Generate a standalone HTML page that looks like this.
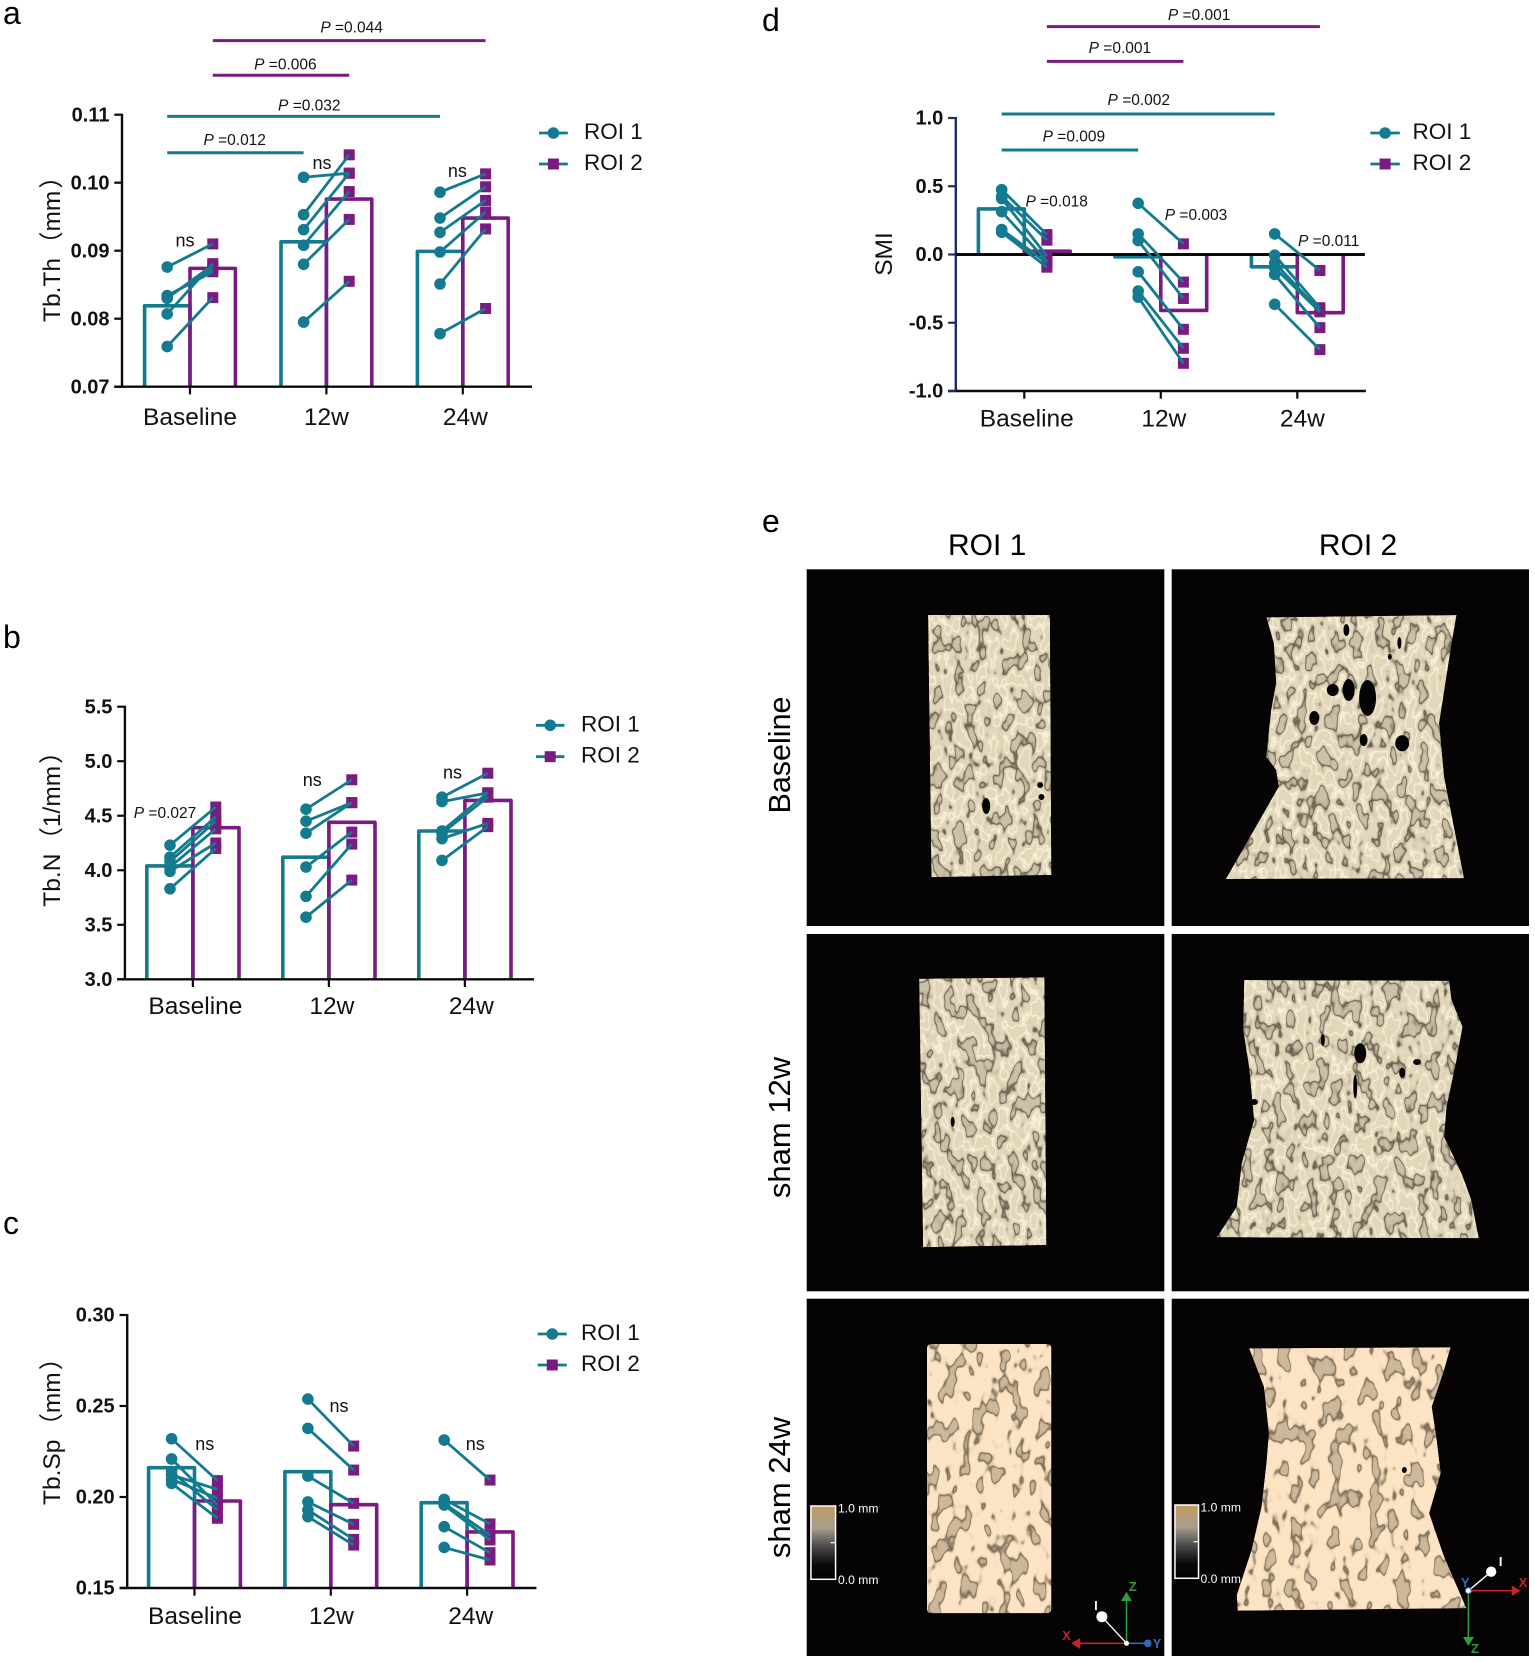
<!DOCTYPE html>
<html lang="en">
<head>
<meta charset="utf-8">
<title>Trabecular bone microstructure by ROI</title>
<style>
html,body{margin:0;padding:0;background:#fff;}
svg{display:block;}
text{font-family:"Liberation Sans","Noto Sans CJK SC",sans-serif;}
</style>
</head>
<body>
<svg id="figure" xmlns="http://www.w3.org/2000/svg" width="1535" height="1662" viewBox="0 0 1535 1662">
<defs>
<filter id="bone-dull" x="0" y="0" width="1" height="1" color-interpolation-filters="sRGB">
  <feTurbulence type="fractalNoise" baseFrequency="0.09 0.052" numOctaves="2" seed="7" result="n"/>
  <feColorMatrix in="n" type="matrix" values="0 0 0 0 .33  0 0 0 0 .30  0 0 0 0 .24  1 0 0 0 0" result="a"/>
  <feComponentTransfer in="a" result="dark"><feFuncA type="table" tableValues=".16 .16 .16 .16 .16 .16 .16 .3 .9 .1 0 0 0 0 0 0 0 0 0 0 0"/></feComponentTransfer>
  <feColorMatrix in="n" type="matrix" values="0 0 0 0 1  0 0 0 0 .98  0 0 0 0 .88  1 0 0 0 0" result="b"/>
  <feComponentTransfer in="b" result="light"><feFuncA type="table" tableValues="0 0 0 0 0 0 0 0 0 0 0 0 .8 0 0 0 0 0 0 0 0"/></feComponentTransfer>
  <feMerge result="m"><feMergeNode in="SourceGraphic"/><feMergeNode in="dark"/><feMergeNode in="light"/></feMerge>
  <feComposite in="m" in2="SourceAlpha" operator="in"/>
</filter>
<filter id="bone-bright" x="0" y="0" width="1" height="1" color-interpolation-filters="sRGB">
  <feTurbulence type="fractalNoise" baseFrequency="0.075 0.045" numOctaves="2" seed="12" result="n"/>
  <feColorMatrix in="n" type="matrix" values="0 0 0 0 .38  0 0 0 0 .33  0 0 0 0 .25  1 0 0 0 0" result="a"/>
  <feComponentTransfer in="a" result="dark"><feFuncA type="table" tableValues=".3 .3 .3 .3 .3 .3 .3 .35 .85 .08 0 0 0 0 0 0 0 0 0 0 0"/></feComponentTransfer>
  <feMerge result="m"><feMergeNode in="SourceGraphic"/><feMergeNode in="dark"/></feMerge>
  <feComposite in="m" in2="SourceAlpha" operator="in"/>
</filter>
<linearGradient id="colorbar-gradient" x1="0" y1="0" x2="0" y2="1">
  <stop offset="0" stop-color="#c49b5e"/><stop offset=".3" stop-color="#a89e8e"/><stop offset=".55" stop-color="#4a4a4a"/><stop offset=".8" stop-color="#0a0a0a"/><stop offset="1" stop-color="#000"/>
</linearGradient>
</defs>

<text x="3" y="24" font-size="32">a</text>
<text x="3" y="648" font-size="32">b</text>
<text x="3" y="1234" font-size="32">c</text>
<text x="762" y="31" font-size="32">d</text>
<text x="762" y="532" font-size="32">e</text>

<g id="panel-e">
  <text x="987.2" y="555" font-size="30" text-anchor="middle">ROI 1</text>
  <text x="1358" y="555" font-size="30" text-anchor="middle">ROI 2</text>
  <text transform="translate(790,755) rotate(-90)" font-size="30.5" text-anchor="middle">Baseline</text>
  <text transform="translate(790,1127.5) rotate(-90)" font-size="31" text-anchor="middle">sham 12w</text>
  <text transform="translate(790,1487.5) rotate(-90)" font-size="31" text-anchor="middle">sham 24w</text>

  <rect x="806.7" y="569.3" width="357.6" height="356.7" fill="#050303"/>
  <rect x="1171.7" y="569.3" width="357.3" height="356.7" fill="#050303"/>
  <rect x="806.7" y="934" width="357.6" height="357.3" fill="#050303"/>
  <rect x="1171.7" y="934" width="357.3" height="357.3" fill="#050303"/>
  <rect x="806.7" y="1298.7" width="357.6" height="357.3" fill="#050303"/>
  <rect x="1171.7" y="1298.7" width="357.3" height="357.3" fill="#050303"/>

  <g transform="translate(760,0) scale(.9944,1) translate(-760,0)">
  <polygon filter="url(#bone-dull)" fill="#e2d7bb" points="929,615 1051.6,615 1053,875 932.4,877.3"/>
  <polygon filter="url(#bone-dull)" fill="#e2d7bb" points="1269.2,617.3 1460.5,615 1455.5,643.3 1443,723.3 1448,776.7 1468,878.3 1228.5,879 1281.6,786.7 1279,770 1269,756.7 1274,710 1279,683 1276.7,643.3"/>
  <polygon filter="url(#bone-dull)" fill="#e2d7bb" points="920,978.7 1046,977.3 1048,1245 924,1247.3"/>
  <polygon filter="url(#bone-dull)" fill="#e2d7bb" points="1246.9,980 1453,980.7 1455.5,1000 1466.5,1026.7 1460.5,1060 1450.5,1106.7 1448,1136.7 1465.5,1173.3 1475.4,1200 1482.8,1238.3 1219.5,1237.3 1239.4,1206.7 1244.4,1163.3 1256.8,1120 1251.8,1066.7 1245.9,1030"/>
  <rect filter="url(#bone-bright)" fill="#fbe3c3" x="927.9" y="1344" width="125.1" height="269.3" rx="4"/>
  <polygon filter="url(#bone-bright)" fill="#fbe3c3" points="1251.8,1348.3 1454.5,1347.3 1448,1370 1435.6,1406.7 1440.6,1440 1444.6,1473.3 1433,1513.3 1448,1556.7 1470.4,1608.3 1240.4,1610.7 1239.4,1595 1254.3,1550 1264.3,1506.7 1269.2,1463.3 1271.7,1433.3 1266.7,1386.7"/>

  <g fill="#050303">
    <ellipse cx="1371" cy="698" rx="8.5" ry="18"/>
    <ellipse cx="1336" cy="690" rx="6" ry="6"/>
    <ellipse cx="1352" cy="690" rx="6" ry="11"/>
    <ellipse cx="1317.4" cy="718" rx="5" ry="7"/>
    <ellipse cx="1405.8" cy="743.3" rx="7" ry="8"/>
    <ellipse cx="1367" cy="740" rx="4" ry="6"/>
    <ellipse cx="1349.7" cy="630" rx="3" ry="6"/>
    <ellipse cx="1403" cy="643" rx="2" ry="6"/>
    <ellipse cx="1393.4" cy="656.7" rx="2" ry="3"/>
    <ellipse cx="987.5" cy="806" rx="4" ry="8"/>
    <ellipse cx="1041.7" cy="785" rx="3" ry="3"/>
    <ellipse cx="1043" cy="797" rx="3" ry="3"/>
    <ellipse cx="1363.6" cy="1053.3" rx="6" ry="10"/>
    <ellipse cx="1405.8" cy="1072.7" rx="3" ry="5"/>
    <ellipse cx="1420.7" cy="1062" rx="4" ry="3"/>
    <ellipse cx="1256.8" cy="1102" rx="4" ry="3"/>
    <ellipse cx="1358.6" cy="1086.7" rx="2" ry="12"/>
    <ellipse cx="1326" cy="1040" rx="2" ry="6"/>
    <ellipse cx="953.8" cy="1121.7" rx="2" ry="5"/>
    <ellipse cx="1408" cy="1470" rx="2.5" ry="3"/>
  </g>

  <g>
    <rect x="811.2" y="1506" width="24.8" height="73.3" fill="url(#colorbar-gradient)" stroke="#fff" stroke-width="1.5"/>
    <line x1="831" y1="1542.7" x2="836" y2="1542.7" stroke="#fff" stroke-width="1.2"/>
    <text x="838.5" y="1512.7" font-size="12.2" fill="#fff">1.0 mm</text>
    <text x="838.5" y="1584" font-size="12.2" fill="#fff">0.0 mm</text>
  </g>
  <g>
    <rect x="1177.3" y="1505" width="23.7" height="73.3" fill="url(#colorbar-gradient)" stroke="#fff" stroke-width="1.5"/>
    <line x1="1196" y1="1541.7" x2="1201" y2="1541.7" stroke="#fff" stroke-width="1.2"/>
    <text x="1203" y="1511.7" font-size="12.2" fill="#fff">1.0 mm</text>
    <text x="1203" y="1583" font-size="12.2" fill="#fff">0.0 mm</text>
  </g>

  <g>
    <line x1="1128.6" y1="1643.3" x2="1128.6" y2="1598" stroke="#2f9e35" stroke-width="1.6"/>
    <polygon points="1128.6,1591.7 1123,1601 1134,1601" fill="#2f9e35"/>
    <line x1="1128.6" y1="1643.3" x2="1080" y2="1643.3" stroke="#c5222a" stroke-width="1.6"/>
    <polygon points="1073,1643.3 1082,1638 1082,1649" fill="#c5222a"/>
    <line x1="1128.6" y1="1643.3" x2="1150" y2="1643.3" stroke="#2f6cc0" stroke-width="1.6"/>
    <circle cx="1150" cy="1643.3" r="3.8" fill="#2f6cc0"/>
    <line x1="1128.6" y1="1643.3" x2="1103.8" y2="1616.7" stroke="#fff" stroke-width="1.4"/>
    <circle cx="1103.8" cy="1616.7" r="5.5" fill="#fff"/>
    <circle cx="1128.6" cy="1643.3" r="2.5" fill="#fff"/>
    <text x="1131" y="1591" font-size="13" font-weight="bold" fill="#2f9e35">Z</text>
    <text x="1064" y="1640" font-size="13" font-weight="bold" fill="#c5222a">X</text>
    <text x="1155" y="1648" font-size="13" font-weight="bold" fill="#2f6cc0">Y</text>
    <text x="1096" y="1610" font-size="13" font-weight="bold" fill="#fff">I</text>
  </g>
  <g>
    <line x1="1472.4" y1="1590.7" x2="1518" y2="1590.7" stroke="#c5222a" stroke-width="1.6"/>
    <polygon points="1525,1590.7 1516,1585.5 1516,1596" fill="#c5222a"/>
    <line x1="1472.4" y1="1590.7" x2="1472.4" y2="1640" stroke="#2f9e35" stroke-width="1.6"/>
    <polygon points="1472.4,1646 1467,1637 1478,1637" fill="#2f9e35"/>
    <line x1="1472.4" y1="1590.7" x2="1495.3" y2="1571.7" stroke="#fff" stroke-width="1.4"/>
    <circle cx="1495.3" cy="1571.7" r="5.2" fill="#fff"/>
    <circle cx="1472.4" cy="1590.7" r="3" fill="#fff" stroke="#2f6cc0" stroke-width="1.2"/>
    <text x="1523" y="1587" font-size="13" font-weight="bold" fill="#c5222a">X</text>
    <text x="1475" y="1653" font-size="13" font-weight="bold" fill="#2f9e35">Z</text>
    <text x="1465" y="1587" font-size="13" font-weight="bold" fill="#2f6cc0">Y</text>
    <text x="1503" y="1566" font-size="13" font-weight="bold" fill="#fff">I</text>
  </g>
  </g>
</g>
</svg>

<script>
// ---------- Shared ----------
var categories = ["Baseline", "12w", "24w"];
var seriesNames = ["ROI 1", "ROI 2"];

// ---------- Panel a: Tb.Th ----------
var aTickLabels = ["0.07", "0.08", "0.09", "0.10", "0.11"];
var aMeanRoi1 = [0.0819, 0.0913, 0.0899];
var aMeanRoi2 = [0.0874, 0.0976, 0.0948];
var aPointsRoi1 = [
  [0.0876, 0.0834, 0.0832, 0.0830, 0.0807, 0.0759],
  [0.1008, 0.0953, 0.0931, 0.0908, 0.0880, 0.0795],
  [0.0986, 0.0948, 0.0927, 0.0898, 0.0851, 0.0778]
];
var aPointsRoi2 = [
  [0.0910, 0.0869, 0.0874, 0.0879, 0.0881, 0.0831],
  [0.1014, 0.1041, 0.1014, 0.0987, 0.0946, 0.0855],
  [0.1013, 0.0994, 0.0974, 0.0957, 0.0932, 0.0815]
];

// ---------- Panel b: Tb.N ----------
var bTickLabels = ["3.0", "3.5", "4.0", "4.5", "5.0", "5.5"];
var bMeanRoi1 = [4.04, 4.12, 4.36];
var bMeanRoi2 = [4.39, 4.44, 4.64];
var bPointsRoi1 = [
  [4.23, 4.12, 4.08, 4.03, 3.99, 3.83],
  [4.56, 4.45, 4.34, 4.03, 3.76, 3.57],
  [4.67, 4.63, 4.36, 4.34, 4.29, 4.09]
];
var bPointsRoi2 = [
  [4.58, 4.49, 4.45, 4.38, 4.25, 4.20],
  [4.83, 4.62, 4.62, 4.35, 4.24, 3.91],
  [4.89, 4.71, 4.71, 4.67, 4.43, 4.40]
];

// ---------- Panel c: Tb.Sp ----------
var cTickLabels = ["0.15", "0.20", "0.25", "0.30"];
var cMeanRoi1 = [0.2161, 0.2139, 0.1969];
var cMeanRoi2 = [0.1978, 0.1958, 0.1808];
var cPointsRoi1 = [
  [0.2320, 0.2209, 0.2139, 0.2121, 0.2097, 0.2075],
  [0.2538, 0.2377, 0.2115, 0.1973, 0.1929, 0.1892],
  [0.2313, 0.1987, 0.1965, 0.1956, 0.1837, 0.1723]
];
var cPointsRoi2 = [
  [0.2090, 0.1956, 0.1929, 0.2042, 0.1993, 0.1883],
  [0.2280, 0.2148, 0.1965, 0.1850, 0.1767, 0.1736],
  [0.2093, 0.1852, 0.1791, 0.1764, 0.1694, 0.1654]
];

// ---------- Panel d: SMI ----------
var dTickLabels = ["-1.0", "-0.5", "0.0", "0.5", "1.0"];
var dMeanRoi1 = [0.334, -0.017, -0.09];
var dMeanRoi2 = [0.024, -0.41, -0.426];
var dPointsRoi1 = [
  [0.475, 0.426, 0.41, 0.314, 0.183, 0.163],
  [0.375, 0.151, 0.102, -0.127, -0.268, -0.312],
  [0.151, -0.005, -0.061, -0.097, -0.146, -0.365]
];
var dPointsRoi2 = [
  [0.146, 0.105, -0.012, -0.049, -0.061, -0.093],
  [0.078, -0.202, -0.322, -0.548, -0.687, -0.797],
  [-0.117, -0.39, -0.414, -0.42, -0.536, -0.697]
];

// ---------- Significance annotations ----------
var aSigLabels = ["0.012", "0.032", "0.006", "0.044"];
var aSigLevels = [0.1044, 0.10976, 0.1158, 0.1209];
var dSigLabels = ["0.009", "0.002", "0.001", "0.001"];
var dSigLevels = [0.766, 1.029, 1.415, 1.669];

var TEAL = "#137a8f", PURPLE = "#7b1a80";
var svgNS = "http://www.w3.org/2000/svg";
var root = document.getElementById("figure");

function make(tag, attrs, parent, content) {
  var node = document.createElementNS(svgNS, tag);
  for (var k in attrs) node.setAttribute(k, attrs[k]);
  if (content !== undefined) node.textContent = content;
  parent.appendChild(node);
  return node;
}

function addPLabel(parent, value, x, y) {
  var t = make("text", {x: x, y: y, "font-size": 15.5, "text-anchor": "middle", fill: "#111"}, parent);
  
  
  make("tspan", {"font-style": "italic"}, t, "P");
  make("tspan", {}, t, " =" + value);
}

function drawPanel(cfg) {
  var g = make("g", {}, root);
  
  

  var tickValues = cfg.tickLabels.map(parseFloat);
  var yMin = tickValues[0], yMax = tickValues[tickValues.length - 1];
  function yScale(v) { return cfg.yBottom - (v - yMin) / (yMax - yMin) * (cfg.yBottom - cfg.yTop); }
  function xTick(i) { return cfg.x0 + i * cfg.step; }
  function xPoint(i, s) { return xTick(i) + (s === 0 ? -cfg.pointOffset : cfg.pointOffset); }

  // bars
  var base = yScale(cfg.barBase);
  categories.forEach(function (cat, i) {
    var x = xTick(i);
    var r1 = make("path", {d: "M" + (x - cfg.barWidth) + "," + base + "V" + yScale(cfg.mean1[i]) + "H" + x + "V" + base,
      fill: "none", stroke: TEAL, "stroke-width": 3.6, "stroke-linejoin": "round"}, g);
    
    
    var r2 = make("path", {d: "M" + x + "," + base + "V" + yScale(cfg.mean2[i]) + "H" + (x + cfg.barWidth) + "V" + base,
      fill: "none", stroke: PURPLE, "stroke-width": 3.6, "stroke-linejoin": "round"}, g);
    
    
  });

  // axes
  var yAxis = make("line", {x1: cfg.axisX, y1: cfg.yTop - 1, x2: cfg.axisX, y2: cfg.yBottom + 1, stroke: cfg.axisColor, "stroke-width": 2.4}, g);
  
  
  var xAxis = make("line", {x1: cfg.axisX - 7.7, y1: cfg.yBottom, x2: cfg.xEnd, y2: cfg.yBottom, stroke: "#0b0b0b", "stroke-width": 2.4}, g);
  
  
  if (cfg.zeroLine) {
    var zero = make("line", {x1: cfg.axisX, y1: yScale(0), x2: cfg.xEnd - 1, y2: yScale(0), stroke: "#0b0b0b", "stroke-width": 3}, g);
    
    
  }

  cfg.tickLabels.forEach(function (lab, i) {
    var y = yScale(tickValues[i]);
    var tick = make("line", {x1: cfg.axisX - 7.7, y1: y, x2: cfg.axisX, y2: y, stroke: cfg.axisColor, "stroke-width": 2.2}, g);
    
    
    var tl = make("text", {x: cfg.axisX - 12.5, y: y + 6.6, "font-size": 20, "font-weight": "bold", "text-anchor": "end", fill: "#111"}, g, lab);
    
    
  });

  categories.forEach(function (cat, i) {
    var x = xTick(i);
    var tick = make("line", {x1: x, y1: cfg.yBottom, x2: x, y2: cfg.yBottom + 7.7, stroke: "#0b0b0b", "stroke-width": 2.2}, g);
    
    
    var lab = make("text", {x: x + cfg.catDx[i], y: cfg.yBottom + cfg.catGap, "font-size": 24.5, "text-anchor": "middle", fill: "#111"}, g, cat);
    
    
  });

  // paired points: squares, then connectors, then circles
  categories.forEach(function (cat, i) {
    cfg.points2[i].forEach(function (v) {
      var sq = make("rect", {x: xPoint(i, 1) - 5.5, y: yScale(v) - 5.5, width: 11, height: 11, fill: PURPLE}, g);
      
      
    });
  });
  categories.forEach(function (cat, i) {
    cfg.points1[i].forEach(function (v, j) {
      var ln = make("line", {x1: xPoint(i, 0), y1: yScale(v), x2: xPoint(i, 1), y2: yScale(cfg.points2[i][j]), stroke: TEAL, "stroke-width": 2.8}, g);
      
      
    });
  });
  categories.forEach(function (cat, i) {
    cfg.points1[i].forEach(function (v) {
      var c = make("circle", {cx: xPoint(i, 0), cy: yScale(v), r: 5.8, fill: TEAL}, g);
      
      
    });
  });

  // significance lines: series index 0 is teal, 1 is purple; spans baseline -> later group
  (cfg.sig || []).forEach(function (s, k) {
    var spanEnd = s.to, x1 = xPoint(0, s.series), x2 = xPoint(spanEnd, s.series), y = yScale(cfg.sigLevels[k]);
    var ln = make("line", {x1: x1, y1: y, x2: x2, y2: y, stroke: s.series === 0 ? TEAL : PURPLE, "stroke-width": 3}, g);
    
    
    addPLabel(g, cfg.sigLabels[k], s.labelX, y - s.labelGap);
  });

  // free notes
  (cfg.notes || []).forEach(function (n) {
    if (n.p) { addPLabel(g, n.p, n.x, n.y); return; }
    var t = make("text", {x: n.x, y: n.y, "font-size": 18, "text-anchor": "middle", fill: "#111"}, g, n.t);
    
    
  });

  // y title
  var title = make("text", {transform: "translate(" + cfg.titleX + "," + cfg.titleY + ") rotate(-90)", "font-size": 24.5, "text-anchor": cfg.titleAnchor, fill: "#111"}, g);
  
  
  cfg.titleParts.forEach(function (part, p) {
    make("tspan", p === 0 ? {} : {dx: 2}, title, part);
  });

  // legend
  var lg = cfg.legend;
  seriesNames.forEach(function (nm, s) {
    var y = s === 0 ? lg.y1 : lg.y2;
    var mid = (lg.x1 + lg.x2) / 2;
    var ln = make("line", {x1: lg.x1, y1: y, x2: lg.x2, y2: y, stroke: TEAL, "stroke-width": 2.8}, g);
    
    
    var marker;
    if (s === 0) {
      marker = make("circle", {cx: mid, cy: y, r: 5.8, fill: TEAL}, g);
    } else {
      marker = make("rect", {x: mid - 5.5, y: y - 5.5, width: 11, height: 11, fill: PURPLE}, g);
    }
    
    
    var t = make("text", {x: lg.textX, y: y + 6, "font-size": 22.5, fill: "#111"}, g, nm);
    
    
  });
}

drawPanel({
  name: "chart-tb-th", tickLabels: aTickLabels, mean1: aMeanRoi1, mean2: aMeanRoi2, points1: aPointsRoi1, points2: aPointsRoi2,
  axisX: 122, yTop: 114.7, yBottom: 386.7, xEnd: 532, x0: 190, step: 136.4, barWidth: 45.4, pointOffset: 22.8,
  barBase: 0.07, axisColor: "#0b0b0b", catDx: [0, 0, 2.6], catGap: 38.5,
  titleParts: ["Tb.Th", "（mm", "）"], titleX: 60.2, titleY: 322, titleAnchor: "start",
  legend: {x1: 539, x2: 567.8, y1: 133, y2: 164, textX: 584},
  sigLabels: aSigLabels, sigLevels: aSigLevels,
  sig: [{series: 0, to: 1, labelX: 234.7, labelGap: 7.7}, {series: 0, to: 2, labelX: 309.3, labelGap: 5.6},
        {series: 1, to: 1, labelX: 285.4, labelGap: 6}, {series: 1, to: 2, labelX: 351.6, labelGap: 8.3}],
  notes: [{t: "ns", x: 185, y: 246.7}, {t: "ns", x: 322, y: 169}, {t: "ns", x: 457.4, y: 177}]
});

drawPanel({
  name: "chart-tb-n", tickLabels: bTickLabels, mean1: bMeanRoi1, mean2: bMeanRoi2, points1: bPointsRoi1, points2: bPointsRoi2,
  axisX: 124.9, yTop: 706.7, yBottom: 979.3, xEnd: 534, x0: 192.9, step: 136, barWidth: 46.1, pointOffset: 22.9,
  barBase: 3, axisColor: "#0b0b0b", catDx: [2.5, 3, 6.4], catGap: 34.7,
  titleParts: ["Tb.N", "（1/mm", "）"], titleX: 60.2, titleY: 906.7, titleAnchor: "start",
  legend: {x1: 536, x2: 564.4, y1: 725.3, y2: 756.7, textX: 581},
  notes: [{p: "0.027", x: 165, y: 818}, {t: "ns", x: 312.2, y: 786}, {t: "ns", x: 452.5, y: 778.7}]
});

drawPanel({
  name: "chart-tb-sp", tickLabels: cTickLabels, mean1: cMeanRoi1, mean2: cMeanRoi2, points1: cPointsRoi1, points2: cPointsRoi2,
  axisX: 127.2, yTop: 1315, yBottom: 1588, xEnd: 536.4, x0: 194.5, step: 136.3, barWidth: 45.9, pointOffset: 22.9,
  barBase: 0.15, axisColor: "#0b0b0b", catDx: [0.5, 0.5, 3.6], catGap: 36,
  titleParts: ["Tb.Sp", "（mm", "）"], titleX: 60.2, titleY: 1505, titleAnchor: "start",
  legend: {x1: 537.7, x2: 566.8, y1: 1334, y2: 1365, textX: 581},
  notes: [{t: "ns", x: 204.8, y: 1450}, {t: "ns", x: 339, y: 1412}, {t: "ns", x: 475.3, y: 1450}]
});

drawPanel({
  name: "chart-smi", tickLabels: dTickLabels, mean1: dMeanRoi1, mean2: dMeanRoi2, points1: dPointsRoi1, points2: dPointsRoi2,
  axisX: 955.8, yTop: 118, yBottom: 391, xEnd: 1365.9, x0: 1024.3, step: 136.5, barWidth: 45.9, pointOffset: 22.6,
  barBase: 0, zeroLine: true, axisColor: "#1f2a6b", catDx: [2.5, 3, 5], catGap: 35.7,
  titleParts: ["SMI"], titleX: 892, titleY: 254, titleAnchor: "middle",
  legend: {x1: 1370.4, x2: 1399.8, y1: 133, y2: 164, textX: 1412.5},
  sigLabels: dSigLabels, sigLevels: dSigLevels,
  sig: [{series: 0, to: 1, labelX: 1073.9, labelGap: 8.3}, {series: 0, to: 2, labelX: 1138.8, labelGap: 9},
        {series: 1, to: 1, labelX: 1119.9, labelGap: 8.3}, {series: 1, to: 2, labelX: 1199.1, labelGap: 6.7}],
  notes: [{p: "0.018", x: 1056.7, y: 206.7}, {p: "0.003", x: 1196, y: 220}, {p: "0.011", x: 1328.7, y: 246}]
});
</script>
</body>
</html>
